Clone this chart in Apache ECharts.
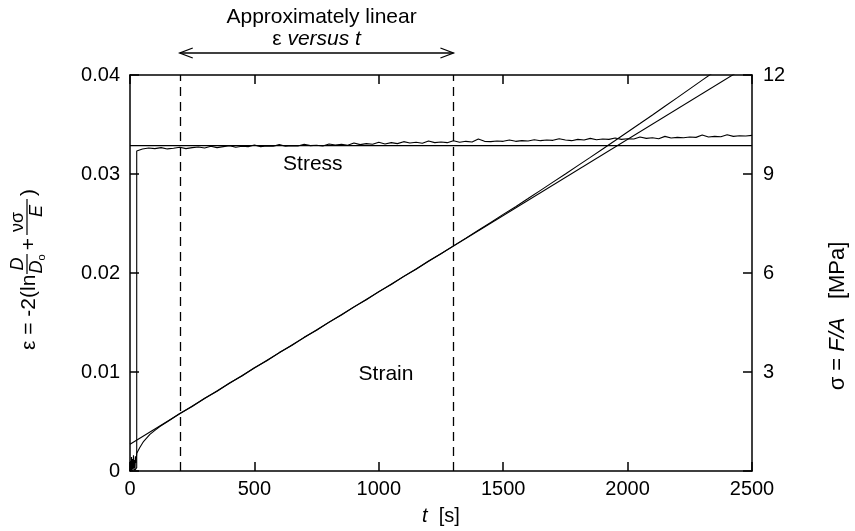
<!DOCTYPE html>
<html><head><meta charset="utf-8">
<script src="https://cdn.jsdelivr.net/npm/echarts@6/dist/echarts.min.js"></script>
<style>html,body{margin:0;padding:0;background:#fff}#c{width:855px;height:531px}</style>
</head><body><div id="c"></div>
<script>
// ---- data ----
const strainTime = [0,2,4,6,8,10,12,14,16,18,20,22,24,27,30,40,55,80,100,120,150,200,250,300,350,400,450,500,550,600,650,700,750,800,850,900,950,1000,1050,1100,1150,1200,1250,1300,1350,1400,1450,1500,1550,1600,1650,1700,1750,1800,1850,1900,1950,2000,2050,2100,2150,2200,2250,2300,2350,2400];
const strainValue = [0.0000,0.0010,0.0001,0.0014,0.0000,0.0012,0.0002,0.0016,0.0003,0.0011,0.0001,0.0015,0.0008,0.0018,0.0020,0.0024,0.0030,0.0037,0.0041,0.0045,0.00498,0.00580,0.00652,0.00735,0.00806,0.00889,0.00960,0.01043,0.01113,0.01196,0.01268,0.01350,0.01421,0.01504,0.01575,0.01658,0.01730,0.01812,0.01884,0.01966,0.02038,0.02121,0.02195,0.02274,0.02352,0.02432,0.02510,0.02592,0.02670,0.02752,0.02835,0.02918,0.03000,0.03085,0.03168,0.03253,0.03338,0.03425,0.03510,0.03596,0.03684,0.03771,0.03860,0.03948,0.04036,0.04125];
const strainFitTime = [0, 2500];
const strainFitValue = [0.0027, 0.0412];
const stressTime = [0,10,20,27,27,50,75,100,125,150,175,200,225,250,275,300,325,350,375,400,425,450,475,500,525,550,575,600,625,650,675,700,725,750,775,800,825,850,875,900,925,950,975,1000,1025,1050,1075,1100,1125,1150,1175,1200,1225,1250,1275,1300,1325,1350,1375,1400,1425,1450,1475,1500,1525,1550,1575,1600,1625,1650,1675,1700,1725,1750,1775,1800,1825,1850,1875,1900,1925,1950,1975,2000,2025,2050,2075,2100,2125,2150,2175,2200,2225,2250,2275,2300,2325,2350,2375,2400,2425,2450,2475,2500];
const stressValue = [0,0.08,0.03,0.10,9.70,9.76,9.79,9.77,9.80,9.76,9.78,9.81,9.77,9.80,9.82,9.79,9.84,9.80,9.83,9.86,9.81,9.84,9.83,9.88,9.83,9.85,9.84,9.89,9.84,9.86,9.85,9.90,9.86,9.87,9.85,9.91,9.88,9.90,9.87,9.94,9.89,9.92,9.90,9.96,9.91,9.95,9.92,9.98,9.94,9.96,9.93,10.00,9.95,9.97,9.95,10.01,9.96,9.99,9.97,10.06,9.99,9.98,10.00,9.99,10.03,9.99,10.01,10.00,10.04,10.01,10.03,10.02,10.07,10.03,10.01,10.05,10.03,10.08,10.04,10.06,10.05,10.09,10.05,10.07,10.06,10.12,10.08,10.10,10.07,10.14,10.09,10.11,10.10,10.12,10.11,10.18,10.12,10.14,10.13,10.19,10.14,10.16,10.15,10.17];
const stressFitTime = [0, 2500];
const stressFitValue = [9.86, 9.86];
const boundaryTimes = [200, 1300];
const stressLabelPos = [735, 0.0310];
const strainLabelPos = [1029, 0.0098];

const zip = (a, b) => a.map((v, i) => [v, b[i]]);
const FONT = 'Liberation Sans, Arial, Helvetica, sans-serif';

const chart = echarts.init(document.getElementById('c'));
const mkLine = () => ({show: true, onZero: false, lineStyle: {color: '#000', width: 1.5}});
const mkTick = () => ({show: true, inside: true, length: 9, lineStyle: {color: '#000', width: 1.5}});
const mkLbl = (margin, formatter) => ({show: true, inside: false, margin, formatter, color: '#000', fontSize: 20, fontFamily: FONT});

chart.setOption({
  animation: false,
  backgroundColor: '#fff',
  grid: {left: 130, right: 103, top: 75, bottom: 56, containLabel: false},
  xAxis: [
    {type: 'value', min: 0, max: 2500, interval: 500, position: 'bottom',
     axisLine: mkLine(), axisTick: mkTick(), splitLine: {show: false},
     axisLabel: mkLbl(8, v => String(v)),
     name: '{i|t}  [s]', nameLocation: 'middle', nameGap: 35,
     nameTextStyle: {color: '#000', fontSize: 20, fontFamily: FONT,
       rich: {i: {fontStyle: 'italic', fontSize: 20, fontFamily: FONT, color: '#000'}}}},
    {type: 'value', min: 0, max: 2500, interval: 500, position: 'top',
     axisLine: mkLine(), axisTick: mkTick(), splitLine: {show: false}, axisLabel: {show: false}}
  ],
  yAxis: [
    {type: 'value', min: 0, max: 0.04, interval: 0.01, position: 'left',
     axisLine: mkLine(), axisTick: mkTick(), splitLine: {show: false},
     axisLabel: mkLbl(10, v => v === 0 ? '0' : v.toFixed(2))},
    {type: 'value', min: 0, max: 12, interval: 3, position: 'right',
     axisLine: mkLine(), axisTick: mkTick(), splitLine: {show: false},
     axisLabel: mkLbl(11, v => v === 0 ? '' : String(v))}
  ],
  series: [
    {type: 'line', name: 'strain', data: zip(strainTime, strainValue), showSymbol: false,
     lineStyle: {color: '#000', width: 1.1}, xAxisIndex: 0, yAxisIndex: 0,
     markLine: {silent: true, symbol: 'none', label: {show: false},
       lineStyle: {color: '#000', width: 1.3, type: [9, 6]},
       data: boundaryTimes.map(t => ({xAxis: t}))}},
    {type: 'line', name: 'strainFit', data: zip(strainFitTime, strainFitValue), showSymbol: false,
     lineStyle: {color: '#000', width: 1.1}, xAxisIndex: 0, yAxisIndex: 0},
    {type: 'line', name: 'stress', data: zip(stressTime, stressValue), showSymbol: false,
     lineStyle: {color: '#000', width: 1.1}, xAxisIndex: 0, yAxisIndex: 1},
    {type: 'line', name: 'stressFit', data: zip(stressFitTime, stressFitValue), showSymbol: false,
     lineStyle: {color: '#000', width: 1.3}, xAxisIndex: 0, yAxisIndex: 1}
  ]
});

// ---- annotations positioned through the axes ----
const px = v => chart.convertToPixel({xAxisIndex: 0}, v);
const py = v => chart.convertToPixel({yAxisIndex: 0}, v);
const xa = px(boundaryTimes[0]), xb = px(boundaryTimes[1]);
const ay = 53;
const txt = (x, y, text, size, extra) => Object.assign({type: 'text', x, y,
  style: Object.assign({text, fill: '#000', fontSize: size, fontFamily: FONT, align: 'center', verticalAlign: 'middle'}, extra || {})});
const lineStyle = {stroke: '#000', lineWidth: 1.3, fill: null};
const T = (x, y, text, size, align, extra) => ({type: 'text', x, y, style: Object.assign({text, fill: '#000', fontSize: size, fontFamily: FONT, align: align || 'center', verticalAlign: 'middle'}, extra || {})});

chart.setOption({graphic: [
  txt((xa + xb) / 2 + 5, 17, 'Approximately linear', 21),
  {type: 'text', x: (xa + xb) / 2, y: 39, style: {text: 'ε {i|versus t}', fill: '#000', fontSize: 21, fontFamily: FONT,
    align: 'center', verticalAlign: 'middle', rich: {i: {fontStyle: 'italic', fontSize: 21, fontFamily: FONT}}}},
  {type: 'line', shape: {x1: xa, y1: ay, x2: xb, y2: ay}, style: lineStyle},
  {type: 'polyline', shape: {points: [[xa + 13, ay - 5], [xa, ay], [xa + 13, ay + 5]]}, style: lineStyle},
  {type: 'polyline', shape: {points: [[xb - 13, ay - 5], [xb, ay], [xb - 13, ay + 5]]}, style: lineStyle},
  txt(px(stressLabelPos[0]), py(stressLabelPos[1]), 'Stress', 21),
  txt(px(strainLabelPos[0]), py(strainLabelPos[1]), 'Strain', 21),
  // left axis title with fractions (local x runs along the text)
  {type: 'group', x: 27, y: 263, rotation: Math.PI / 2, children: [
    T(-87, 2, 'ε = -2(ln', 21, 'left'),
    T(-1, -9, 'D', 18, 'center', {fontStyle: 'italic'}),
    {type: 'line', shape: {x1: -11, y1: 0, x2: 9, y2: 0}, style: {stroke: '#000', lineWidth: 1.2}},
    T(-1, 10, '{i|D}{s|o}', 18, 'center', {rich: {i: {fontStyle: 'italic', fontSize: 18, fontFamily: FONT}, s: {fontSize: 11, fontFamily: FONT, padding: [9, 0, 0, 0]}}}),
    T(19, 2, '+', 21),
    T(41, -9, 'νσ', 18),
    {type: 'line', shape: {x1: 28, y1: 0, x2: 64, y2: 0}, style: {stroke: '#000', lineWidth: 1.2}},
    T(52, 10, 'E', 18, 'center', {fontStyle: 'italic'}),
    T(67, 2, ')', 21, 'left')
  ]},
  // right axis title
  {type: 'text', x: 838, y: 316, rotation: Math.PI / 2, style: {text: 'σ = {i|F/A}   [MPa]', fill: '#000', fontSize: 22, fontFamily: FONT,
    align: 'center', verticalAlign: 'middle', rich: {i: {fontStyle: 'italic', fontSize: 22, fontFamily: FONT}}}}
]});
</script></body></html>
